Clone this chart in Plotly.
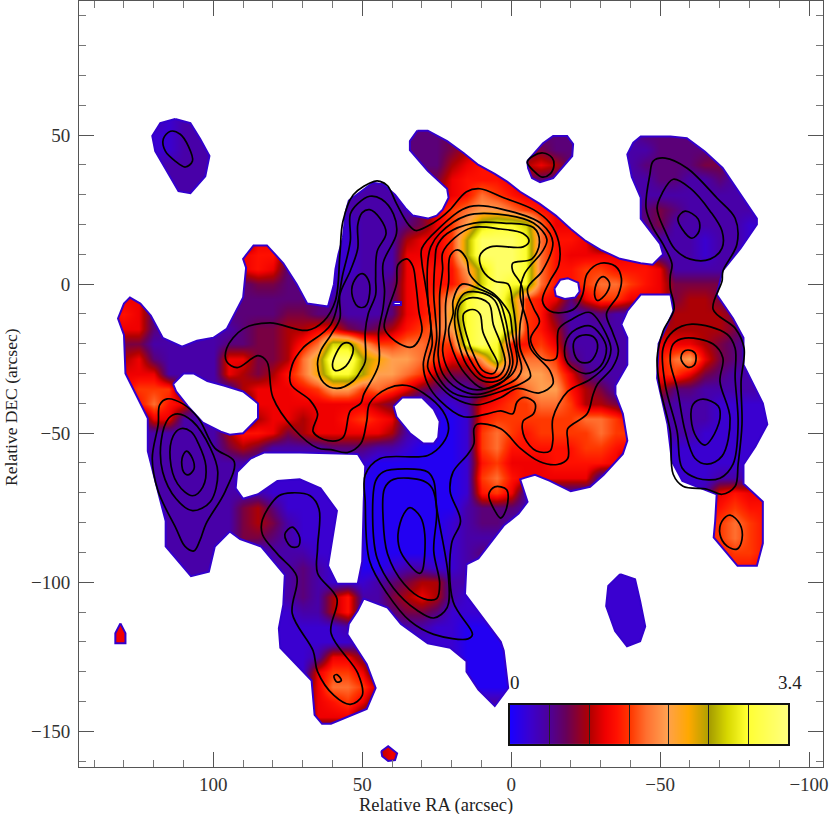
# -*- coding: utf-8 -*-
"""
Intensity map with contour overlay, relative RA / DEC in arcsec
"""

import plotly.graph_objects as go

#%% Map values on a 5 arcsec grid

ra_grid = [135 - 5 * i for i in range(45)]
dec_grid = [55 - 5 * j for j in range(44)]

# one letter per cell, see level_values
map_rows = [
    "ccccb ccccc ccccc ccccc ddddd ddddd ccccc ccccc ccccc",
    "cccbb ccccc ccccc ccccc dddee eeeed ddccc cdddd ccccc",
    "cccbb ccccc ccccc ccccc dddef ggeee ddccc ccddd deecc",
    "ccccc ccccc ccccc ccccc dddfg hhffg fdccc cdddd eeccc",
    "ccccc ccccc ccccc ccccc deegh hhged dcccc ccddc cdccc",
    "ccccc ccccc ccccc ccccc cdfgh jihgg gcccc ccccc ccccc",
    "ccccc ccccc ccccc ccccc cegij kkjih ggccc cdedc ccccc",
    "ccccc ccccc ccccb bbccc degik noonj gggcc cdecc cccbb",
    "ccccc ccccc ggccc bbccc fggim pppoj hhgcc ccccc bccbb",
    "ccccc ccccg hhecc bbccc gggim pppoj hgggg ggccc bccbb",
    "ccccc ccccg hgddd bbccc ghhhk nppoj hhiih hhgcc ccccb",
    "ccccc ccccd eeddd bcccd ghhhj npooj hhijj ihgee eeccc",
    "cggcc ccccd ddddd ccccd ghiko ppmih gdgii gggef feccc",
    "ghgdc cccdd ddeed dcccd ghilo ppnih eccdc ccdff ffecc",
    "gggdc ccccd eeffg gedef hijko ppnih fcccc ccfff ffecc",
    "ceecc cccdd eefhj nnkii jjiio pohhi gcccc ccggg fedcc",
    "cfgdc cccgg eefjl ppmlk kjigg koijj idccc cchjk gedcc",
    "cgggc cccgf efhjl oomkk jifee gijkk jgdcc cchig edccc",
    "ggiii ccccf ggghi kkiji gedcc dghjk khfec ccfdd ccccc",
    "gghjh gcccc ggggg gggfe cbbbc ghiij jiffe ccdcc cbbbb",
    "cccgg ccccc fggfg ghihg cbaab hiiii iijji gcccc cbbbb",
    "ccccc cccfh hgefg ggggf cbaab ijihi iiiji icccc bbbbb",
    "ccccc cccef ecccc dddcc baaab ijhhh hhiih gccbb bbbbb",
    "ccccc ccccc ccccc ccbaa aaaab higgg hhhhg bbbbb bbbbb",
    "ccccc ccccb bbbbb bbaaa aaaab ijhgg gggcc bbbbb bcccb",
    "ccccc ccccc cbbbb bbaaa aaaab higcc ccccc bbbbb cghgg",
    "ccccc cccce fdbbb bbaaa aaaac dddcc ccccc bbbbb ghihh",
    "ccccc cccce fecbb bbaaa aaabc ddccc ccccc bbbbb hijih",
    "ccccc cccce edcbb bbaaa aaabc ccccc ccccc bbbbb hijih",
    "ccccc ccccc bcccb bbaaa aaabc ddccc ccccc bbbbb ghiih",
    "ccccc ccccc cccdc bbaab ccbbc ccccc bbbbb bbbbb ghhhg",
    "ccccc ccccc cccdc bbbcd effcc ccccc bbbbb bbbbb ccccc",
    "ccccc ccccc cccdc fhcce fgfcb bbbbb bbbbb bbbbb ccccc",
    "ccccc ccccc bbbcc fhccd eedbb bbbbb bbbbb bbbbb ccccc",
    "ggccc ccccc bbbbb bcccc ccbba aaabb bbbbb bbbbb ccccc",
    "ggccc ccccc bbbbb bbccc bbbba aaaaa bbbbb bbbbb ccccc",
    "ccccc ccccc bbbbc ggecc bbbba aaaaa ccccc ccccc ccccc",
    "ccccc ccccc bbbbg iigcc bbbba aaaaa ccccc ccccc ccccc",
    "ccccc ccccc bbbdg jjifc bbbba aaaaa ccccc ccccc ccccc",
    "ccccc ccccc bbbdg higdc ccccc ccccc ccccc ccccc ccccc",
    "ccccc ccccc bbbcg ggdcc ccccc ccccc ccccc ccccc ccccc",
    "ccccc ccccc ccccc ccccc ccccc ccccc ccccc ccccc ccccc",
    "ccccc ccccc ccccc cccfg fcccc ccccc ccccc ccccc ccccc",
    "ccccc ccccc ccccc cccfg fcccc ccccc ccccc ccccc ccccc",
]

level_values = {'a': .02, 'b': .07, 'c': .12, 'd': .17, 'e': .22, 'f': .28, 'g': .34, 'h': .38,
                'i': .43, 'j': .49, 'k': .56, 'l': .64, 'm': .72, 'n': .78, 'o': .85, 'p': .95}

color_stops = [0, .07, .14, .20, .285, .34, .38, .43, .49, .56, .64, .72, .78, .85, 1]
color_hex = ['#1a00ff', '#3a00d0', '#4e0098', '#680058', '#b00000', '#f00000', '#ff1000', '#ff3800',
             '#ff7030', '#ffa050', '#ffa800', '#a8a000', '#d8d800', '#ffff30', '#ffff80']

bar_ticks = [1/7, 2/7, 3/7, 4/7, 5/7, 6/7]

#%% Edges of the detected emission (RA, DEC), everything outside is white

edge_main = [(31.5,51.5),(28,51.5),(21.5,48),(16,44),(11,40),(5.5,37),(1.5,34.5),(-3,31),(-9.5,27),(-15,23),
    (-20,18.5),(-25,14.5),(-30,11.5),(-36.5,8.5),(-43.5,7),(-47.5,6.5),(-49.5,8.5),(-51,10),(-50,13.5),(-46,18.5),
    (-43.5,22),(-43.5,29),(-40.5,36),(-39,43.5),(-41,47.5),(-43.5,49.5),(-53.5,49.5),(-59,49),(-65,44.5),(-71,39),
    (-75,33),(-82.5,22),(-82.5,20),(-77,12),(-71,4.5),(-69,-3.5),(-74.5,-11.5),(-78,-18),(-78,-27),(-84.5,-40),
    (-86,-47),(-82,-54.5),(-78,-60.5),(-78,-67),(-84.5,-73),(-84.5,-87),(-82.5,-94.5),(-76,-94.5),(-68,-85),(-68.5,-79.5),
    (-69,-70.5),(-57.5,-66),(-54,-59.5),(-52.5,-47),(-49,-31.5),(-49.5,-20),(-54.5,-9),(-53.5,-3.5),(-47.5,-3.5),(-43.5,-3.5),
    (-39,-9),(-37,-13.5),(-39,-18),(-39,-27),(-35,-34),(-35,-37),(-37.5,-43.5),(-39,-52.5),(-37.5,-57),(-31,-64),
    (-26.5,-68),(-20,-69.5),(-13,-66),(-8,-64),(-4.5,-65),(-3,-65.5),(-5.5,-73),(-2.5,-77),(2.5,-81),(11,-92),
    (15,-94),(15.5,-104),(3.5,-120),(2.5,-123),(1,-135.5),(5.5,-141.5),(11,-136),(15,-130),(15,-126.5),(20.5,-122),
    (28,-120.5),(37,-114),(41.5,-108.5),(49.5,-105.5),(51.5,-109.5),(54.5,-114),(55,-117.5),(48.5,-127.5),(45.5,-135.5),(48.5,-142.5),
    (60.5,-147.5),(63.5,-147.5),(66,-144.5),(67,-133),(77.5,-122),(78,-115.5),(76.5,-107.5),(76,-97.5),(84,-88),(91,-85.5),
    (94.5,-83),(99.5,-88),(101.5,-96.5),(107.5,-98),(116,-88),(116,-79.5),(119.5,-66),(122,-56),(122,-45),(125,-39),
    (129.5,-30),(130,-17),(132,-11.5),(130,-6.5),(128,-4.5),(124.5,-6.5),(121,-10.5),(117,-18),(110.5,-21),(105.5,-19),
    (100,-18),(95.5,-15),(90,-4.5),(89,5.5),(90,8.5),(86.5,13),(82,13),(76.5,7),(72,0),(68.5,-6.5),
    (61.5,-7.5),(59.5,0),(59,5),(58,10),(56.5,15.5),(55.5,24.5),(54.5,28),(50.5,31),(46.5,34),(43,33.5),
    (39,30),(35.5,25.5),(33,23),(28,22),(25,23),(23,25),(21,29),(21.5,32),(28,38),(34,45),(34,48)]
edge_topleft = [(112.8,55.4),(107.7,54),(104.4,48.7),(101.3,43),(102.7,36.2),(107.7,30.5),(111.7,31.2),(115.1,37.2),(119.5,44.6),(120.5,49.7),(117.8,54)]
edge_left_dot = [(131.2,-113.8),(129.5,-117.1),(129.5,-120.5),(132.9,-120.5),(132.9,-117.1)]
edge_bottom_dot = [(43.6,-156.7),(41.3,-155),(38.3,-157.4),(39,-159.7),(41.3,-160),(43.3,-158.4)]
edge_lower_right = [(-36.6,-97.3),(-41.6,-99),(-43.3,-106.4),(-45,-114.8),(-43.3,-119.8),(-38.9,-121.5),(-34.9,-116.4),(-31.9,-108),(-32.6,-101.3)]
edge_top_dot = [(-5.4,41.3),(-10.7,47.3),(-14.1,49.7),(-18.8,49.7),(-20.8,47),(-20.5,43),(-14.1,35.6),(-9.7,34.2),(-7,35.6),(-5.7,38.9)]

hole_left = [(113.5,-33.5),(110,-30),(106.5,-30),(102,-32.5),(96.5,-34),(90,-36),(85,-40),(85,-45),(90,-50),(94.5,-50.5),(97.5,-49.5),(103.5,-46.5),(108.5,-41),(112.5,-36)]
hole_wide = [(92,-63),(87.5,-58.5),(83,-56.5),(71,-56.5),(51.5,-57),(49,-61),(49.5,-73),(50,-93),(51.5,-100.5),(58.5,-100.5),(61.5,-94.5),(58.5,-76),(64,-68.5),(71,-65.5),(78.5,-66),(85,-70.5),(90,-72),(92.5,-68.5)]
hole_center = [(39.5,-41),(36.5,-38),(30,-38),(26,-42),(24,-46),(24.5,-51.5),(26,-53.5),(29.5,-53.5),(34,-50),(38.5,-44.5)]
hole_right = [(-14.5,-1.5),(-16.5,1.5),(-19,2),(-22.5,0.5),(-23,-2.5),(-21.5,-4.5),(-18,-5),(-15,-4)]
hole_speck = [(39.5,-6),(37,-6),(37,-7),(39.5,-7)]

#%% Contours (RA, DEC)

c_top_left = [(114.4,51.3),(111.1,50.3),(108.4,46.3),(107,41.3),(109.4,39.3),(112.8,41.3),(116.1,44.6),(116.8,48.7)]
c_top_dot = [(-5.4,40.9),(-7.4,43),(-10.7,44),(-13.8,42.3),(-14.4,40),(-13.1,37),(-10.4,35.9),(-7.7,37.9)]

c_right_outer = [(-51.7,42.3),(-47.7,41.3),(-46.6,36.9),(-45.3,25.5),(-47.7,18.8),(-51,13.4),(-54,6.7),(-53.4,2.7),(-53.4,-1.3),(-54.7,-8.4),
    (-51,-15.8),(-49,-24.8),(-50,-34.9),(-53.4,-49.3),(-54.4,-63.8),(-57.7,-67.8),(-65.8,-68.8),(-70.8,-70.5),(-75.2,-67.8),(-76.2,-60.4),
    (-77.5,-47),(-77.2,-32.6),(-78.2,-21.5),(-75.2,-14.8),(-67.8,-8.4),(-70.8,1),(-71.1,4.4),(-75.8,13.4),(-75.2,22.1),(-69.1,28.9),(-59.1,38.9)]
c_right_up2 = [(-54.4,35.2),(-50.7,30.5),(-49,25.5),(-51.7,17.8),(-55,11.7),(-60.1,8.4),(-66.8,8.4),(-70.8,12.1),(-70.8,17.8),(-66.8,24.5),(-60.1,32.2)]
c_right_up3 = [(-58.4,24.5),(-56,22.1),(-57.4,18.5),(-60.7,15.4),(-63.1,17.8),(-62.8,21.8)]
c_right_low2 = [(-60.7,-13.4),(-54.4,-15.8),(-51,-21.5),(-51.7,-33.6),(-55.7,-49.3),(-57.4,-61.7),(-62.4,-65.1),(-70.1,-65.1),(-74.5,-60.4),(-76.2,-47),(-75.2,-31.5),(-75.2,-21.5),(-72.5,-16.8)]
c_right_low3 = [(-58.4,-18.1),(-54.4,-20.1),(-53.4,-25.8),(-55.7,-34.9),(-58.4,-49.3),(-61.7,-58.4),(-65.8,-60.4),(-70.8,-57.7),(-73.5,-45),(-70.1,-32.6),(-71.1,-24.8),(-67.8,-20.1)]
c_right_ring = [(-59.4,-22.1),(-61.7,-23.1),(-62.1,-24.8),(-61.4,-27.2),(-59.4,-27.9),(-57.7,-26.5),(-57,-24.8),(-57.7,-22.8)]
c_right_low4 = [(-64.4,-38.6),(-61.1,-40.3),(-60.4,-45),(-62.4,-51.7),(-65.1,-54),(-67.4,-51.7),(-70.1,-45),(-69.5,-40.9)]
c_right_foot = [(-73.5,-77.5),(-70.8,-79.5),(-70.1,-83.9),(-72.5,-87.9),(-75.8,-88.9),(-77.5,-85.6),(-76.8,-80.5)]

c_big = [(44,34.5),(41.5,33),(38.5,27),(34.5,20),(32,18),(28,19.5),(24,22),(20.5,25),(15,31),(10.5,32),
    (2.5,29),(-7.5,25),(-13,20.5),(-16,14),(-16,6.5),(-13,1),(-10.5,-5.5),(-13,-9),(-17.5,-9.5),(-21.5,-8),
    (-24,-3.5),(-25.5,3.5),(-30,7),(-35,6),(-37,2),(-36,-3.5),(-32,-10),(-34,-16),(-36,-22.5),(-34,-28),
    (-29,-33.5),(-27.5,-37),(-25.5,-43.5),(-19,-48.5),(-19,-52.5),(-19,-58.5),(-15.5,-60.5),(-9.5,-59.5),(-3,-55),(3.5,-48.5),
    (11.5,-47),(12.5,-48.5),(12.5,-53.5),(14.5,-57),(19.5,-63),(20.5,-69.5),(17,-79.5),(20,-87),(19.5,-106.5),(13,-117.5),
    (14.5,-119),(26,-117.5),(34,-113),(41.5,-104),(47.5,-93),(49,-73),(49,-64),(44,-58.5),(28,-57.5),(23,-53.5),
    (21,-48.5),(23,-42.5),(29.5,-36.5),(35,-34),(41.5,-35),(47.5,-40),(48.5,-46),(50.5,-53.5),(55,-56.5),(60.5,-55.5),
    (65,-55),(73,-48.5),(80,-38),(82,-26),(85,-24),(92,-28),(95.5,-26),(95.5,-21.5),(90,-15),(81,-13),
    (68.5,-15.5),(63,-12.5),(59,-5.5),(57.5,10),(56.5,21),(53,30),(46,34.5)]
c_low_dot = [(7.5,-70.5),(5.5,-68),(1.5,-69),(1.5,-75),(3.5,-78.5),(5.5,-76)]

c_purple2 = [(47.5,29.5),(43.5,28.5),(39.5,23.5),(38.5,17),(43,7),(42.5,-2.5),(43,-8),(44.5,-16),(44.5,-27),(49.5,-37),
    (50.5,-40),(54,-42.5),(56.5,-51.5),(61.5,-52.5),(66.5,-49.5),(65,-43.5),(67.5,-39),(74,-33.5),(73.5,-27),(70,-21.5),
    (60.5,-13.5),(56.5,3.5),(54,14.5),(54,23.5),(51.5,27)]
c_purple3 = [(47.5,25),(44,22),(42,17),(45,11),(45.5,2),(45.5,-3.5),(48,-10),(49,-16),(49,-26),(50.5,-29),
    (53,-32.5),(58.5,-35),(63,-33),(65,-27),(64,-22.5),(60.5,-17),(57.5,-11.5),(57.5,-3.5),(54,4.5),(51.5,12),(51.5,20),(50,24)]
c_purple4 = [(50,3.5),(52.5,1.5),(53.5,-3),(51.5,-7.5),(49,-7.5),(47.5,-3),(48,1.5)]
c_mid_loop = [(35,8.5),(38,6.5),(38.5,0),(41.5,-9),(42.5,-15),(37.5,-20),(33,-21),(30,-16),(31,-9),(32,0),(33,6)]
c_yellow = [(54,-20),(56.5,-20),(60,-27),(59,-29),(55.5,-27.5),(53,-22)]

c_side1 = [(-25,-17),(-21.5,-18.5),(-21,-22.5),(-23,-26),(-26.5,-26),(-29,-21.5),(-28,-18)]
c_side2 = [(-26.5,-14),(-20.5,-16),(-18,-21),(-19,-26.5),(-25,-30),(-30,-27.5),(-32,-21.5),(-30,-17)]
c_side_top = [(-31,2.5),(-29,1),(-28,-3.5),(-29,-5.5),(-32,-3),(-33,0.5)]

c_lower_s = [(73.5,-70),(78,-71),(83.5,-79),(83.5,-84),(78.5,-90.5),(72,-98),(73.5,-110.5),(66.5,-123),(65,-130),(59.5,-138),
    (54,-141),(50,-138),(51.5,-130.5),(60.5,-117),(58.5,-105.5),(65,-97),(65,-88.5),(64.5,-75.5),(67.5,-71)]
c_lower_oval = [(73.5,-81.5),(76,-84),(74,-88),(71.5,-88),(71,-85)]
c_lower_tiny = [(58.5,-131),(59.5,-131.5),(58.5,-133.5),(57,-133)]

c_bottom1 = [(35,-62),(43,-63),(45.5,-66),(46.5,-78.5),(45,-92),(39.5,-102),(31.5,-109.5),(26,-112),(21.5,-108.5),(21,-99),(25,-75),(26,-66),(28,-63)]
c_bottom2 = [(39.5,-65.5),(42.5,-68.5),(43,-78.5),(41.5,-90.5),(36,-100.5),(29.5,-105.5),(25,-105.5),(24,-100.5),(26,-89.5),(25,-76),(26.5,-68.5),(29.5,-66)]
c_bottom3 = [(34,-75),(36,-77),(38,-84),(37,-90),(31,-97),(30,-96.5),(29,-84),(30.5,-78)]

c_left1 = [(115.5,-38.5),(118,-40.5),(118.5,-47),(120.5,-58.5),(118.5,-69.5),(112.5,-82),(109.5,-88),(106.5,-89.5),(104.5,-86),(102.5,-80.5),(96,-69.5),(93,-59.5),(99.5,-55),(105,-45),(110.5,-40)]
c_left2 = [(112,-43.5),(115,-45),(117.5,-52.5),(117,-63),(112.5,-72),(107,-76),(101,-73),(98.5,-63),(101,-55),(107,-46)]
c_left3 = [(111,-48.5),(113.5,-51),(114.5,-58.5),(112,-67),(107,-71),(103.5,-68),(102.5,-61),(105,-53.5),(107.5,-49.5)]
c_left4 = [(109,-56),(110.5,-58.5),(110,-63),(108.5,-64),(106.5,-62),(107,-58.5)]

c_core_b = [(30,7.5),(30,12),(24.5,18.5),(14,26),(0.5,24.5),(-10.5,20),(-14,14),(-10.5,4.5),(-5.5,-1.5),(-7.5,-8),
    (-9.5,-12.5),(-6.5,-18.5),(-10.5,-25),(-15,-25),(-16,-15),(-20,-12),(-26.5,-9.5),(-32,-17),(-33.5,-22),(-31.5,-27.5),
    (-26.5,-32),(-19,-36),(-14,-45),(-14,-52.5),(-13,-56),(-8.5,-56),(-4.5,-51.5),(-4,-46),(-7.5,-43.5),(-8,-40),
    (-4.5,-38),(-2,-39.5),(-0.5,-43.5),(3.5,-42.5),(8,-43.5),(16,-44.5),(24,-39),(28,-33.5),(29.5,-27),(27,-16),(28,-5.5),(29,1)]
c_core_c = [(28,7.5),(27,12.5),(24,17),(15,23),(4.5,23.5),(-7.5,20.5),(-12,15),(-10.5,11),(-4.5,3.5),(-3,-3.5),
    (-5.5,-13.5),(-6.5,-21.5),(-13,-29),(-14,-33.5),(-9.5,-36.5),(-2,-35),(3.5,-38),(11.5,-40.5),(19.5,-38),(24.5,-33.5),
    (28,-28),(26.5,-20),(27,-13.5),(28,-4.5)]
c_core_d = [(25.5,8.5),(25,12.5),(21.5,17),(12.5,20.5),(2.5,20.5),(-7.5,19),(-9.5,14),(-7,8.5),(-0.5,7),(-0.5,4.5),
    (-3.5,-0.5),(-4,-7.5),(-3,-13.5),(-3,-21.5),(-6.5,-31),(-4,-33),(3.5,-36),(11.5,-38),(19.5,-36.5),(24,-32),
    (26,-26),(25,-18),(25.5,-10),(26,-3.5)]
c_core_e = [(23,5),(23,10.5),(19,15.5),(13,19),(3.5,18.5),(-4,17),(-6,14.5),(-4,12.5),(7,12.5),(10.5,9.5),
    (9.5,4.5),(5.5,1),(1,0),(-0.5,-6.5),(-1.5,-13.5),(-2,-21.5),(-3.5,-28.5),(-2,-31.5),(4.5,-35),(11.5,-37),
    (18,-35),(23,-30),(24.5,-24),(24,-17),(24,-9),(24,-3.5)]
c_core_f = [(21,0.5),(20.5,9.5),(18,11.5),(15,8.5),(14,3.5),(11,0),(5.5,-3.5),(2,-7.5),(0.5,-10),(-0.5,-17),
    (-2,-26),(-0.5,-30),(4.5,-33.5),(11.5,-35.5),(17,-33.5),(21,-29),(23,-22.5),(22,-15),(22,-6.5)]
c_core_g = [(19.5,-10),(19.5,-5.5),(16.5,0),(11,-1.5),(4.5,-5),(2,-11.5),(0.5,-20),(-0.5,-27),(2.5,-32.5),(9.5,-35),(15.5,-30),(19.5,-22.5),(21,-15.5)]
c_core_h = [(19,-11.5),(18,-6.5),(15.5,-3),(9.5,-3),(5.5,-5.5),(3,-12.5),(1.5,-20),(0.5,-27),(3.5,-32),(9.5,-32.5),(15,-27),(18,-18.5)]
c_core_i = [(18,-10),(17,-6.5),(13,-4.5),(7.5,-6.5),(6,-13.5),(3.5,-20),(2,-27),(4.5,-31),(9.5,-31),(14,-25),(16.5,-18)]
c_core_j = [(16,-10),(13,-8.5),(10.5,-10),(9.5,-16),(7,-21.5),(4.5,-27),(6,-30),(9.5,-29),(12,-25),(15,-17)]

all_contours = [c_top_left, c_top_dot, c_right_outer, c_right_up2, c_right_up3, c_right_low2, c_right_low3,
                c_right_ring, c_right_low4, c_right_foot, c_big, c_low_dot, c_purple2, c_purple3, c_purple4,
                c_mid_loop, c_yellow, c_side1, c_side2, c_side_top, c_lower_s, c_lower_oval, c_lower_tiny,
                c_bottom1, c_bottom2, c_bottom3, c_left1, c_left2, c_left3, c_left4, c_core_b, c_core_c,
                c_core_d, c_core_e, c_core_f, c_core_g, c_core_h, c_core_i, c_core_j]

#%% Build the figure

z_map = [[level_values[ch] for ch in row.replace(' ', '')] for row in map_rows]
scale = [[s, c] for s, c in zip(color_stops, color_hex)]

fig = go.Figure()

fig.add_trace(go.Heatmap(x=ra_grid, y=dec_grid, z=z_map, zmin=0, zmax=1, zsmooth='best',
                         colorscale=scale, showscale=False, hoverinfo='skip'))

# white sheet with the emission cut out of it: big box one way round, blobs the other way
sheet_x = [170, 170, -130, -130, 170, None]
sheet_y = [120, -190, -190, 120, 120, None]
for blob in [edge_main, edge_topleft, edge_left_dot, edge_bottom_dot, edge_lower_right, edge_top_dot]:
    sheet_x += [p[0] for p in blob] + [blob[0][0], None]
    sheet_y += [p[1] for p in blob] + [blob[0][1], None]
for hole in [hole_left, hole_wide, hole_center, hole_right, hole_speck]:
    sheet_x += [p[0] for p in hole] + [hole[0][0], None]
    sheet_y += [p[1] for p in hole] + [hole[0][1], None]

fig.add_trace(go.Scatter(x=sheet_x, y=sheet_y, mode='lines', fill='toself', fillcolor='white',
                         line=dict(color='#3300cc', width=2), hoverinfo='skip', showlegend=False))

for path in all_contours:
    fig.add_trace(go.Scatter(x=[p[0] for p in path] + [path[0][0]],
                             y=[p[1] for p in path] + [path[0][1]],
                             mode='lines', line=dict(color='black', width=1.7, shape='spline', smoothing=1.0),
                             hoverinfo='skip', showlegend=False))

# colour bar
bar_x = color_stops
fig.add_trace(go.Heatmap(x=bar_x, y=[0, 1], z=[color_stops, color_stops], zmin=0, zmax=1, zsmooth='best',
                         colorscale=scale, showscale=False, hoverinfo='skip', xaxis='x2', yaxis='y2'))

axis_font = dict(family='Liberation Serif', size=19, color='#333333')
title_font = dict(family='Liberation Serif', size=18.5, color='#222222')
label_font = dict(family='Liberation Serif', size=19, color='#222222')

fig.update_layout(
    width=830, height=814, autosize=False,
    margin=dict(l=79, r=7, t=1, b=47),
    paper_bgcolor='white', plot_bgcolor='white', showlegend=False,
    xaxis=dict(range=[145.1, -104.7], tickvals=[100, 50, 0, -50, -100], ticks='inside', ticklen=15,
               tickcolor='#555555', tickwidth=1, mirror='ticks', showline=True, linecolor='#555555', linewidth=1,
               showgrid=False, zeroline=False, tickfont=axis_font,
               minor=dict(tickvals=[140, 130, 120, 110, 90, 80, 70, 60, 40, 30, 20, 10, -10, -20, -30, -40, -60, -70, -80, -90],
                          ticks='inside', ticklen=7, tickcolor='#777777', tickwidth=1)),
    yaxis=dict(range=[-162, 95], tickvals=[-150, -100, -50, 0, 50], ticks='inside', ticklen=15,
               tickcolor='#555555', tickwidth=1, mirror='ticks', showline=True, linecolor='#555555', linewidth=1,
               showgrid=False, zeroline=False, tickfont=axis_font, ticklabelstandoff=4,
               minor=dict(tickvals=[90, 80, 70, 60, 40, 30, 20, 10, -10, -20, -30, -40, -60, -70, -80, -90,
                                    -110, -120, -130, -140, -160],
                          ticks='inside', ticklen=7, tickcolor='#777777', tickwidth=1)),
    xaxis2=dict(domain=[0.5793, 0.953], anchor='y2', range=[0, 1], tickvals=bar_ticks, ticks='inside', ticklen=39,
                tickcolor='#222222', tickwidth=1, showticklabels=False, showline=True, mirror=True,
                linecolor='#111111', linewidth=2, showgrid=False, zeroline=False),
    yaxis2=dict(domain=[0.030, 0.081], anchor='x2', range=[0, 1], showticklabels=False, ticks='',
                showline=True, mirror=True, linecolor='#111111', linewidth=2, showgrid=False, zeroline=False),
    annotations=[
        dict(text='0', xref='paper', x=0.586, yref='paper', y=0.094, xanchor='center', yanchor='bottom', showarrow=False,
             font=label_font),
        dict(text='3.4', xref='paper', x=0.9556, yref='paper', y=0.094, xanchor='center', yanchor='bottom', showarrow=False,
             font=label_font),
        # axis titles sit off the plot centre in the original
        dict(text='Relative RA (arcsec)', xref='paper', x=0.48, yref='paper', y=-0.05, xanchor='center', yanchor='middle',
             showarrow=False, font=title_font),
        dict(text='Relative DEC (arcsec)', xref='paper', x=-0.0915, yref='paper', y=0.47, xanchor='center', yanchor='middle',
             textangle=-90, showarrow=False, font=dict(family='Liberation Serif', size=17.5, color='#222222')),
    ],
)

# page margin off so the figure sits at the window corner
fig.write_html("out.html", config=dict(displayModeBar=False),
               post_script="document.body.style.margin='0';")
